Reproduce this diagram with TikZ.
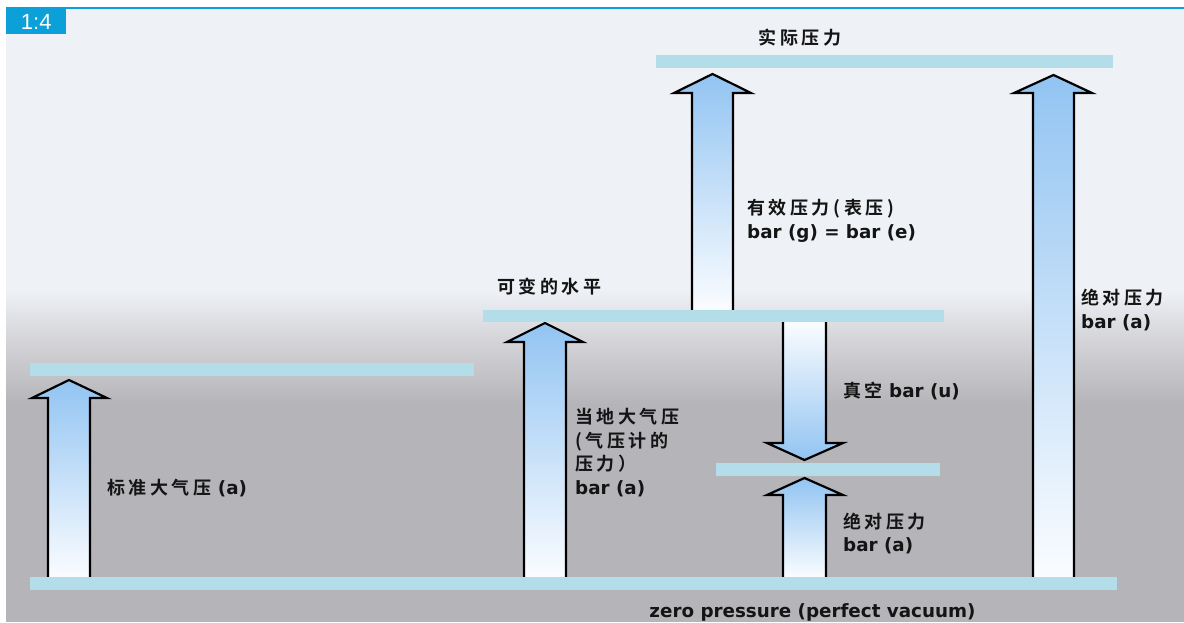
\documentclass[tikz,border=0pt]{standalone}
\usepackage{fontspec}
\setmainfont{DejaVu Sans}
\newfontfamily\cjk{Noto Sans CJK SC}[LetterSpace=20, BoldFont={Noto Sans CJK SC Bold}]
\newfontfamily\tabfont{Liberation Sans}
\newcommand\zh[1]{{\cjk\fontsize{18}{23.5}\selectfont #1}}
\definecolor{bgtop}{HTML}{EEF1F6}
\definecolor{bgmid}{HTML}{D6D7DB}
\definecolor{bgbot}{HTML}{B5B4B9}
\definecolor{barblue}{HTML}{B3DDE8}
\definecolor{arrblue}{HTML}{92C4F2}
\definecolor{arrwhite}{HTML}{FAFCFF}
\definecolor{tabblue}{HTML}{0BA0D8}
\definecolor{txt}{HTML}{141414}
\newcommand\blockarrow[9]{%
  \shade[top color=#1, bottom color=#2] (#3,#9) -- (#3,#8) -- (#5,#8) -- ({(#3+#4)/2},#7) -- (#6,#8) -- (#4,#8) -- (#4,#9) -- cycle;
  \draw[arrline] (#3,#9) -- (#3,#8) -- (#5,#8) -- ({(#3+#4)/2},#7) -- (#6,#8) -- (#4,#8) -- (#4,#9);}
\begin{document}
\begin{tikzpicture}[x=1pt,y=-1pt,
  bar/.style={fill=barblue, draw=none, inner sep=0, minimum height=13pt},
  arrline/.style={draw=black, line width=2.2pt, line join=miter},
  lbl/.style={font=\fontsize{18.3}{23.5}\selectfont\bfseries, text=txt, align=left, inner sep=0, anchor=west}]
\useasboundingbox (0,0) rectangle (1184,622);
% background
\fill[white] (0,0) rectangle (1184,622);
\fill[bgtop] (6,9) rectangle (1184,290);
\shade[top color=bgtop, bottom color=bgmid] (6,290) rectangle (1184,335);
\shade[top color=bgmid, bottom color=bgbot] (6,335) rectangle (1184,405);
\fill[bgbot] (6,405) rectangle (1184,622);
\fill[tabblue] (6,7) rectangle (1184,9);
\node[fill=tabblue, minimum width=60pt, minimum height=25pt, inner sep=0, anchor=north west, text=white, font=\tabfont\fontsize{22}{22}\selectfont] (tab) at (6,9) {1:4};
% arrows
\blockarrow{arrblue}{arrwhite}{48}{90}{32}{107}{380}{398}{577}
\blockarrow{arrblue}{arrwhite}{524}{566}{507}{583}{323}{342}{577}
\blockarrow{arrblue}{arrwhite}{692}{733}{674}{751}{74}{93}{310}
\blockarrow{arrwhite}{arrblue}{783}{826}{767}{843}{460}{443}{322}
\blockarrow{arrblue}{arrwhite}{783}{826}{767}{843}{478}{495}{577}
\blockarrow{arrblue}{arrwhite}{1033}{1074}{1014}{1092}{75}{93}{577}
% bars
\node[bar, minimum width=457pt] (topbar) at (884.5,61.5) {};
\node[bar, minimum width=461pt, minimum height=12pt] (midbar) at (713.5,316) {};
\node[bar, minimum width=444pt] (leftbar) at (252,369.5) {};
\node[bar, minimum width=224pt] (lowbar) at (828,469.5) {};
\node[bar, minimum width=1087pt] (zerobar) at (573.5,583.5) {};
% labels
\node[lbl, anchor=center] (t1) at (800,38) {\zh{实际压力}};
\node[lbl] (t2) at (497,287) {\zh{可变的水平}};
\node[lbl] (t3) at (747,221) {\zh{有效压力(表压)}\\bar (g) = bar (e)};
\node[lbl] (t4) at (1081,310) {\zh{绝对压力}\\bar (a)};
\node[lbl] (t5) at (107,488) {\zh{标准大气压} (a)};
\node[lbl] (t6) at (575,452.5) {\zh{当地大气压}\\\zh{(气压计的}\\\zh{压力）}\\bar (a)};
\node[lbl] (t7) at (843,391) {\zh{真空} bar (u)};
\node[lbl] (t8) at (843,533.5) {\zh{绝对压力}\\bar (a)};
\node[lbl, anchor=center] (t9) at (812.5,612) {zero pressure (perfect vacuum)};
\end{tikzpicture}
\end{document}
